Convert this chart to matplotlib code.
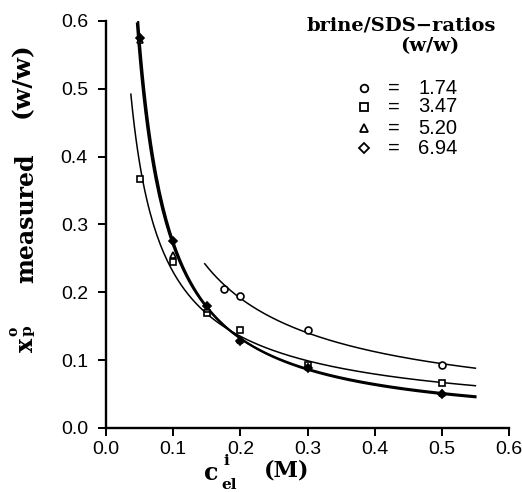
import numpy as np
import matplotlib.pyplot as plt

ratios = ["1.74", "3.47", "5.20", "6.94"]
markers = ["o", "s", "^", "D"]

x_174 = [0.175, 0.2, 0.3, 0.5]
y_174 = [0.205, 0.195, 0.145, 0.093]

x_347 = [0.05, 0.1, 0.15, 0.2, 0.3, 0.5]
y_347 = [0.367, 0.245, 0.170, 0.145, 0.093, 0.066]

x_520 = [0.05, 0.1, 0.15, 0.2, 0.3, 0.5]
y_520 = [0.572, 0.255, 0.175, 0.130, 0.090, 0.052]

x_694 = [0.05, 0.1, 0.15, 0.2, 0.3, 0.5]
y_694 = [0.575, 0.275, 0.180, 0.128, 0.088, 0.050]

# range of each fitted curve
fit_start = [0.147, 0.037, 0.046, 0.047]
fit_end = [0.55, 0.55, 0.55, 0.55]
fit_lw = [1.1, 1.1, 1.5, 1.5]

xs = [x_174, x_347, x_520, x_694]
ys = [y_174, y_347, y_520, y_694]

W, H = 522, 492
fig = plt.figure(figsize=(W / 100, H / 100), dpi=100)
ax = fig.add_axes([106 / W, 1 - 428 / H, (509 - 106) / W, (428 - 21) / H])

for i in range(4):
    # power law fit  y = a*x^b
    b, loga = np.polyfit(np.log(xs[i]), np.log(ys[i]), 1)
    xx = np.linspace(fit_start[i], fit_end[i], 200)
    ax.plot(xx, np.exp(loga) * xx ** b, color="black", lw=fit_lw[i])
    face = "black" if markers[i] == "D" else "white"
    ms = 4.5 if markers[i] == "D" else 5
    ax.plot(xs[i], ys[i], markers[i], ms=ms, mfc=face, mec="black",
            mew=1.2, zorder=3)

ax.set_xlim(0, 0.6)
ax.set_ylim(0, 0.6)
ticks = np.arange(0, 0.61, 0.1)
ax.set_xticks(ticks)
ax.set_yticks(ticks)
ax.set_xticklabels(["%.1f" % v for v in ticks])
ax.set_yticklabels(["%.1f" % v for v in ticks])
for s in ["top", "right"]:
    ax.spines[s].set_visible(False)
for s in ["left", "bottom"]:
    ax.spines[s].set_linewidth(1.7)
ax.tick_params(direction="out", length=6, width=1.4, labelsize=14)
ax.tick_params(axis="x", pad=3)
ax.tick_params(axis="y", pad=7)
for lab in ax.get_xticklabels() + ax.get_yticklabels():
    lab.set_family("Liberation Sans")

serif = dict(family="DejaVu Serif", weight="bold")


def px(x, y):
    return x / W, 1 - y / H


# x axis label  c^i_el (M)
fig.text(*px(211, 473), "c", ha="center", va="center", fontsize=17, **serif)
fig.text(*px(226, 461), "i", ha="center", va="center", fontsize=11, **serif)
fig.text(*px(229, 485), "el", ha="center", va="center", fontsize=11, **serif)
fig.text(*px(287, 470), "(M)", ha="center", va="center", fontsize=16,
         **serif)

# y axis label  x^o_p measured (w/w)
fig.text(*px(26, 345), "x", rotation=90, ha="center", va="center",
         fontsize=17, **serif)
fig.text(*px(13, 331), "o", rotation=90, ha="center", va="center",
         fontsize=10, **serif)
fig.text(*px(28, 331), "p", rotation=90, ha="center", va="center",
         fontsize=11, **serif)
fig.text(*px(26, 218), "measured", rotation=90, ha="center", va="center",
         fontsize=17, **serif)
fig.text(*px(22, 80), "(w/w)", rotation=90, ha="center", va="center",
         fontsize=18, **serif)

# legend drawn by hand
fig.text(*px(401, 26), "brine/SDS\u2212ratios", ha="center", va="center",
         fontsize=14, **serif)
fig.text(*px(430, 46), "(w/w)", ha="center", va="center", fontsize=14,
         **serif)
rows = [88, 107, 128, 148]
for i in range(4):
    xx, yy = px(364, rows[i])
    fig.lines.append(plt.Line2D([xx], [yy], marker=markers[i], ms=5.5,
                                mfc="white", mec="black", mew=1.3,
                                transform=fig.transFigure))
    fig.text(*px(394, rows[i]), "=", ha="center", va="center", fontsize=14.5,
             family="Liberation Sans")
    fig.text(*px(418, rows[i]), ratios[i], ha="left", va="center",
             fontsize=14.5, family="Liberation Sans")

fig.savefig("out.png", dpi=100)
